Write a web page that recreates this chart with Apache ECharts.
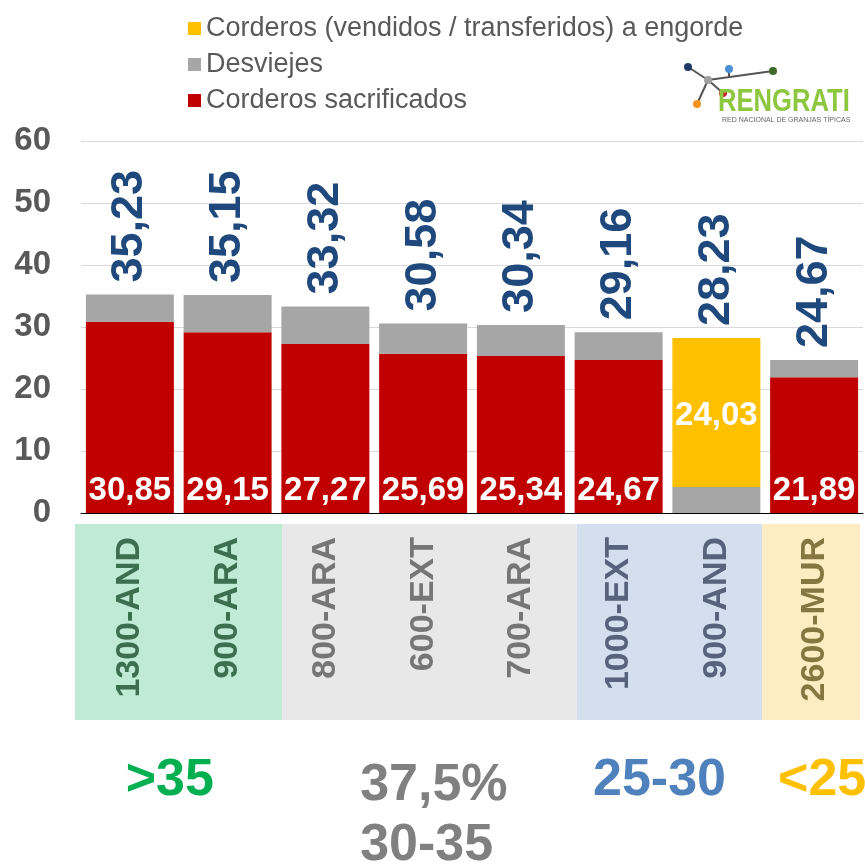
<!DOCTYPE html>
<html>
<head>
<meta charset="utf-8">
<script src="https://cdn.jsdelivr.net/npm/echarts@6/dist/echarts.min.js"></script>
<style>
  html, body { margin: 0; padding: 0; background: #fff; }
  #chart { width: 865px; height: 868px; }
</style>
</head>
<body>
<div id="chart"></div>
<script>
var FONT = "'Liberation Sans', Arial, sans-serif";

// data
var categories = ['1300-AND', '900-ARA', '800-ARA', '600-EXT', '700-ARA', '1000-EXT', '900-AND', '2600-MUR'];
var sacrificados = [30.85, 29.15, 27.27, 25.69, 25.34, 24.67, null, 21.89];
var desviejes = [4.38, 6.00, 6.05, 4.89, 5.00, 4.49, 4.20, 2.78];
var engorde = [null, null, null, null, null, null, 24.03, null];
var totales = [35.23, 35.15, 33.32, 30.58, 30.34, 29.16, 28.23, 24.67];
var yTicks = [0, 10, 20, 30, 40, 50, 60];

// groups of farms (index ranges) and their labels
var groups = [
    { from: 0, to: 1, band: '#BFEBD5', text: '#3C6E50', label: ['>35'], labelColor: '#00B050', dx: -9 },
    { from: 2, to: 4, band: '#E8E8E8', text: '#767676', label: ['37,5%', '30-35'], labelColor: '#808080', dx: 11 },
    { from: 5, to: 6, band: '#D3DEEE', text: '#56637A', label: ['25-30'], labelColor: '#4F81BD', dx: -8 },
    { from: 7, to: 7, band: '#FEEDC2', text: '#877542', label: ['<25'], labelColor: '#FFC000', dx: 8 }
];
// small shifts of the band edges, as in the original slide
var bandShift = [-6, 6, 7, -3, -3];

var groupOf = function(i) {
    for (var g = 0; g < groups.length; ++g) {
        if (i >= groups[g].from && i <= groups[g].to) return groups[g];
    }
    return groups[0];
};

var fmt = function(p) {
    return p.value.toFixed(2).replace('.', ',');
};

var chart = echarts.init(document.getElementById('chart'));

var option = {
    backgroundColor: '#fff',
    animation: false,
    textStyle: { fontFamily: FONT },
    legend: {
        orient: 'vertical',
        left: 183,
        top: 10,
        itemWidth: 13,
        itemHeight: 13,
        itemGap: 9,
        icon: 'rect',
        selectedMode: false,
        textStyle: { fontSize: 27, lineHeight: 27, color: '#595959', fontFamily: FONT },
        data: ['Corderos (vendidos / transferidos) a engorde', 'Desviejes', 'Corderos sacrificados']
    },
    grid: { left: 81, right: 2, top: 141, bottom: 355 },
    xAxis: {
        type: 'category',
        data: categories,
        axisLine: { lineStyle: { color: '#000', width: 1 } },
        axisTick: { length: 11, lineStyle: { color: '#000' }, interval: 0 },
        axisLabel: {
            interval: 0,
            rotate: 90,
            margin: 24,
            fontSize: 34,
            fontWeight: 'bold',
            fontFamily: FONT,
            color: function(value, index) {
                return groupOf(index).text;
            }
        }
    },
    yAxis: {
        type: 'value',
        min: yTicks[0],
        max: yTicks[yTicks.length - 1],
        interval: 10,
        axisLine: { show: false },
        axisTick: { show: false },
        splitLine: { lineStyle: { color: '#D9D9D9', width: 1 } },
        axisLabel: { fontSize: 33, fontWeight: 'bold', color: '#595959', margin: 30, fontFamily: FONT }
    },
    series: [
        {
            name: 'Corderos sacrificados',
            type: 'bar',
            stack: 'total',
            barCategoryGap: '10%',
            barGap: '-100%',
            itemStyle: { color: '#C00000' },
            label: {
                show: true,
                position: 'insideBottom',
                distance: 6,
                color: '#fff',
                fontSize: 33,
                fontWeight: 'bold',
                fontFamily: FONT,
                formatter: fmt
            },
            data: sacrificados
        },
        {
            name: 'Desviejes',
            type: 'bar',
            stack: 'total',
            barCategoryGap: '10%',
            barGap: '-100%',
            itemStyle: { color: '#A6A6A6' },
            data: desviejes
        },
        {
            name: 'Corderos (vendidos / transferidos) a engorde',
            type: 'bar',
            stack: 'total',
            barCategoryGap: '10%',
            barGap: '-100%',
            itemStyle: { color: '#FFC000' },
            label: {
                show: true,
                position: 'inside',
                offset: [0, 3],
                color: '#fff',
                fontSize: 33,
                fontWeight: 'bold',
                fontFamily: FONT,
                formatter: fmt
            },
            data: engorde
        },
        {
            name: 'Total',
            type: 'bar',
            barCategoryGap: '10%',
            barGap: '-100%',
            silent: true,
            z: 1,
            itemStyle: { color: 'rgba(0,0,0,0)' },
            label: {
                show: true,
                position: 'top',
                distance: 12,
                rotate: 90,
                align: 'left',
                verticalAlign: 'middle',
                color: '#1F497D',
                fontSize: 45,
                fontWeight: 'bold',
                fontFamily: FONT,
                formatter: fmt
            },
            data: totales
        }
    ]
};

chart.setOption(option);

// coloured bands under the axis and the group captions
var center0 = chart.convertToPixel({ xAxisIndex: 0 }, 0);
var center1 = chart.convertToPixel({ xAxisIndex: 0 }, 1);
var step = center1 - center0;
var graphics = [];

groups.forEach(function(g, gi) {
    var x0 = chart.convertToPixel({ xAxisIndex: 0 }, g.from) - step / 2;
    var x1 = chart.convertToPixel({ xAxisIndex: 0 }, g.to) + step / 2;
    var bx0 = x0 + bandShift[gi];
    var bx1 = x1 + bandShift[gi + 1];
    graphics.push({
        type: 'rect',
        z: -10,
        shape: { x: bx0, y: 524, width: bx1 - bx0, height: 196 },
        style: { fill: g.band }
    });
    var multi = g.label.length > 1;
    g.label.forEach(function(t, k) {
        graphics.push({
            type: 'text',
            // multi-line captions are left aligned like in the slide
            x: (x0 + x1) / 2 + g.dx - (multi ? 74 : 0),
            y: (multi ? 786 : 781) + k * 60,
            style: {
                text: t,
                fill: g.labelColor,
                font: 'bold 52px ' + FONT,
                align: multi ? 'left' : 'center',
                verticalAlign: 'middle'
            }
        });
    });
});

// RENGRATI logo
var dots = [
    { x: 688, y: 67, c: '#1F3A68' },
    { x: 729, y: 69, c: '#4A90D9' },
    { x: 773, y: 71, c: '#3F6B2A' },
    { x: 708, y: 80, c: '#A0A0A0' },
    { x: 723, y: 93, c: '#D0202E' },
    { x: 697, y: 104, c: '#F7941D' }
];
var links = [[0, 3], [3, 5], [3, 4], [3, 2]];
links.forEach(function(l) {
    graphics.push({
        type: 'line',
        shape: { x1: dots[l[0]].x, y1: dots[l[0]].y, x2: dots[l[1]].x, y2: dots[l[1]].y },
        style: { stroke: '#555', lineWidth: 2 }
    });
});
graphics.push({
    type: 'line',
    shape: { x1: 729, y1: 69, x2: 729, y2: 77 },
    style: { stroke: '#555', lineWidth: 2 }
});
dots.forEach(function(d) {
    graphics.push({
        type: 'circle',
        shape: { cx: d.x, cy: d.y, r: 4 },
        style: { fill: d.c }
    });
});
graphics.push({
    type: 'text',
    x: 718,
    y: 102,
    scaleX: 0.8,
    style: {
        text: 'RENGRATI',
        fill: '#8DC63F',
        font: 'bold 32px ' + FONT,
        align: 'left',
        verticalAlign: 'middle'
    }
});
graphics.push({
    type: 'text',
    x: 722,
    y: 120,
    style: {
        text: 'RED NACIONAL DE GRANJAS TÍPICAS',
        fill: '#666',
        font: '7px ' + FONT,
        align: 'left',
        verticalAlign: 'middle'
    }
});

chart.setOption({ graphic: graphics });
</script>
</body>
</html>
